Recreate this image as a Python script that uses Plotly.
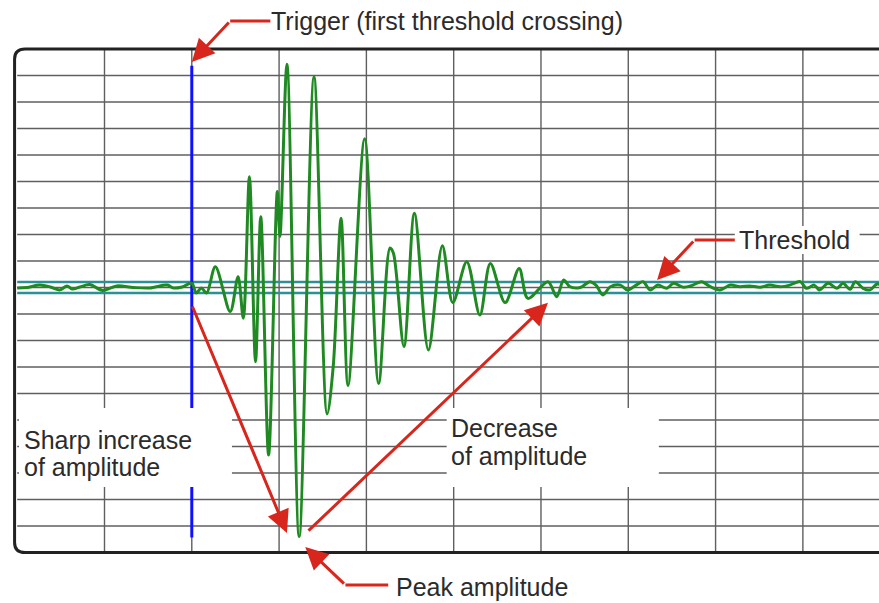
import plotly.graph_objects as go

# Signal trace, in screen divisions (x = time, y = amplitude)
sig_x = [0.00, 0.11, 0.26, 0.38, 0.49, 0.57, 0.63, 0.72, 0.83, 0.98, 1.14, 1.33, 1.52, 1.72, 1.79, 1.89, 2.00,
         2.05, 2.11, 2.17, 2.27, 2.44, 2.53, 2.59, 2.66, 2.73, 2.79, 2.88, 2.98, 3.01, 3.09, 3.23,
         3.40, 3.55, 3.62, 3.71, 3.79, 3.98, 4.14, 4.27, 4.31, 4.43, 4.55, 4.71, 4.87, 4.99,
         5.15, 5.30, 5.42, 5.59, 5.75, 5.85, 6.08, 6.18, 6.26, 6.33, 6.45, 6.56, 6.63, 6.71,
         6.79, 6.91, 6.99, 7.09, 7.17, 7.25, 7.34, 7.44, 7.52, 7.63, 7.74, 7.84, 7.94, 8.05,
         8.17, 8.28, 8.39, 8.51, 8.62, 8.74, 8.85, 8.97, 9.04, 9.13, 9.19, 9.29, 9.39, 9.46,
         9.54, 9.60, 9.69, 9.77, 9.85, 9.95, 10.05]
sig_y = [-0.02, 0.00, 0.09, 0.02, -0.09, 0.06, -0.06, 0.02, 0.11, -0.11, 0.06, 0.00, -0.02, 0.09, -0.02, 0.02, 0.16,
         -0.21, -0.02, -0.21, 0.78, -0.91, 0.41, -1.16, 4.18, -2.80, 2.67, -6.32, 3.62, 1.92, 8.42, -9.40,
         7.94, -4.77, -2.99, 2.61, -3.70, 5.61, -3.62, 1.49, 1.29, -2.23, 2.80, -2.36, 1.58, -0.57,
         0.97, -1.04, 0.91, -0.57, 0.72, -0.41, 0.22, -0.35, 0.28, 0.03, 0.00, 0.22, 0.09, -0.28,
         0.02, 0.09, -0.09, 0.09, 0.22, -0.09, 0.09, -0.03, 0.16, 0.01, 0.09, 0.22, 0.03, -0.09,
         0.09, 0.03, 0.06, 0.01, 0.09, 0.03, 0.09, 0.22, -0.03, 0.09, -0.09, 0.16, -0.03, 0.16,
         -0.07, 0.22, -0.03, -0.09, 0.13, 0.05, 0.10]

threshold = 0.21
trigger_x = 2.0
grid_x = [1, 2, 3, 4, 5, 6, 7, 8, 9]
grid_y = [-9, -8, -7, -6, -5, -4, -3, -2, -1, 0, 1, 2, 3, 4, 5, 6, 7, 8]

RED = "#d8261d"
TXT = "#2b2b2b"
FONT = "Liberation Sans, Arial, sans-serif"

fig = go.Figure()

# grid lines, clipped to the screen frame
gx, gy = [], []
for v in grid_x:
    gx += [v, v, None]
    gy += [-10, 9, None]
for h in grid_y:
    gx += [0, 10.5, None]
    gy += [h, h, None]
fig.add_trace(go.Scatter(x=gx, y=gy, mode="lines", line=dict(color="#5f5f5f", width=1.4),
                         hoverinfo="skip"))

# threshold band
for t in (threshold, -threshold):
    fig.add_trace(go.Scatter(x=[0, 10.5], y=[t, t], mode="lines",
                             line=dict(color="#2b9098", width=2.5), hoverinfo="skip"))

# trigger marker
fig.add_trace(go.Scatter(x=[trigger_x, trigger_x], y=[8.37, -9.43], mode="lines",
                         line=dict(color="#1010ff", width=3), hoverinfo="skip"))

fig.add_trace(go.Scatter(x=sig_x, y=sig_y, mode="lines",
                         line=dict(color="#1f8a22", width=3, shape="spline", smoothing=0.9),
                         hoverinfo="skip"))

# white label boxes covering the grid
for x0, x1, y0, y1 in [(0.02, 2.46, -4.55, -7.53), (4.92, 7.35, -4.55, -7.53), (8.22, 9.65, 2.32, 1.26)]:
    fig.add_shape(type="rect", x0=x0, x1=x1, y0=y0, y1=y1, fillcolor="white",
                  line=dict(width=0), layer="above")

# screen frame with rounded left corners
rx, ry = 0.12, 0.38
fig.add_shape(type="path", layer="above", line=dict(color="#222222", width=3),
              path=f"M 10.5,9 L {rx - 0.03},9 Q -0.03,9 -0.03,{9 - ry} L -0.03,{-10 + ry} "
                   f"Q -0.03,-10 {rx - 0.03},-10 L 10.5,-10")

# elbow segments of the callout arrows
for x0, x1, y in [(2.90, 2.44, 10.06), (8.22, 7.76, 1.79), (4.25, 3.76, -11.23)]:
    fig.add_shape(type="line", x0=x0, x1=x1, y0=y, y1=y, layer="above",
                  line=dict(color=RED, width=3))

arrows = [
    (2.00, 8.51, 2.44, 10.06),
    (7.33, 0.28, 7.76, 1.79),
    (3.30, -9.79, 3.76, -11.23),
    (3.09, -9.26, 2.00, -0.66),
    (6.08, -0.58, 3.32, -9.23),
]
for x, y, ax, ay in arrows:
    fig.add_annotation(x=x, y=y, ax=ax, ay=ay, xref="x", yref="y", axref="x", ayref="y",
                       text="", showarrow=True, arrowhead=2, arrowsize=1.5, arrowwidth=3,
                       arrowcolor=RED)

labels = [
    ("Trigger (first threshold crossing)", 2.89, 10.06),
    ("Threshold", 8.245, 1.79),
    ("Peak amplitude", 4.32, -11.32),
    ("Sharp increase", 0.055, -5.74),
    ("of amplitude", 0.055, -6.79),
    ("Decrease", 4.95, -5.32),
    ("of amplitude", 4.95, -6.36),
]
for txt, x, y in labels:
    fig.add_annotation(x=x, y=y, xref="x", yref="y", text=txt, showarrow=False,
                       xanchor="left", yanchor="middle",
                       font=dict(family=FONT, size=25, color=TXT))

fig.update_layout(
    width=879, height=603,
    margin=dict(l=0, r=0, t=0, b=0),
    paper_bgcolor="white", plot_bgcolor="white",
    showlegend=False,
    xaxis=dict(range=[-0.197, 9.872], visible=False, showgrid=False, zeroline=False),
    yaxis=dict(range=[-11.906, 10.849], visible=False, showgrid=False, zeroline=False),
)

fig.write_html("out.html", config={"displayModeBar": False},
               post_script="document.body.style.margin='0';")
